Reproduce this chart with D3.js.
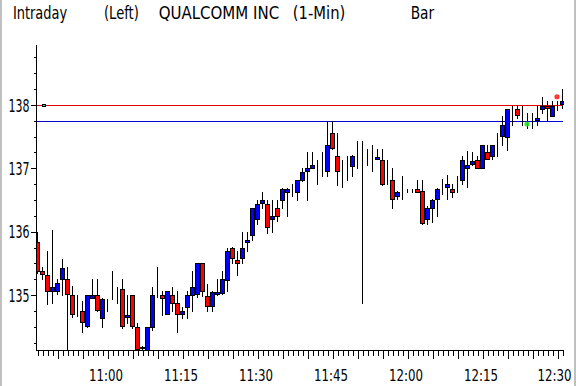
<!DOCTYPE html>
<html><head><meta charset="utf-8">
<script src="https://cdn.jsdelivr.net/npm/d3@7"></script>
<style>
html,body{margin:0;padding:0;background:#fff;}
svg{display:block;}
text{font-family:"Liberation Sans Narrow","DejaVu Sans Condensed","Liberation Sans",sans-serif;fill:#000;}
</style></head>
<body>
<svg id="c" width="576" height="386"></svg>
<script>
const times = ["10:46","10:47","10:48","10:49","10:50","10:51","10:52","10:53","10:54","10:55","10:56","10:57","10:58","10:59",
"11:00","11:01","11:02","11:03","11:04","11:05","11:06","11:07","11:08","11:09","11:10","11:11","11:12","11:13","11:14",
"11:15","11:16","11:17","11:18","11:19","11:20","11:21","11:22","11:23","11:24","11:25","11:26","11:27","11:28","11:29",
"11:30","11:31","11:32","11:33","11:34","11:35","11:36","11:37","11:38","11:39","11:40","11:41","11:42","11:43","11:44",
"11:45","11:46","11:47","11:48","11:49","11:50","11:51","11:52","11:53","11:54","11:55","11:56","11:57","11:58","11:59",
"12:00","12:01","12:02","12:03","12:04","12:05","12:06","12:07","12:08","12:09","12:10","12:11","12:12","12:13","12:14",
"12:15","12:16","12:17","12:18","12:19","12:20","12:21","12:22","12:23","12:24","12:25","12:26","12:27","12:28","12:29",
"12:30","12:31"];
const openP = [135.83,135.38,135.32,135.06,135.06,135.26,135.25,135.00,134.69,134.75,134.51,134.95,135.00,134.63,134.94,
134.94,135.00,135.10,134.65,135.00,134.49,134.18,134.13,134.49,135.00,135.00,134.70,135.00,134.87,134.70,
134.81,135.00,135.02,135.50,134.99,134.83,135.02,135.03,135.24,135.75,135.56,135.58,135.83,135.94,136.20,
136.45,136.43,136.20,136.37,136.50,136.63,136.68,136.63,136.82,136.95,137.01,137.00,137.00,136.95,137.55,
137.20,137.00,137.00,137.04,137.18,137.25,137.21,137.18,137.14,137.13,136.88,136.82,136.57,136.62,136.62,
136.62,136.68,136.64,136.20,136.38,136.51,136.68,136.70,136.68,136.81,136.81,137.01,137.07,137.13,137.00,
137.25,137.19,137.37,137.51,137.49,137.88,137.93,137.88,137.75,137.75,137.76,137.94,137.99,137.82,138.00,138.02];
const highP = [136.00,135.45,135.70,136.03,135.25,135.57,135.44,135.15,135.00,134.90,135.00,135.25,135.25,134.95,134.94,
135.38,135.13,135.25,135.00,135.00,134.56,134.20,134.49,135.13,135.44,135.06,135.07,135.13,135.06,134.81,
135.06,135.38,135.50,135.50,135.18,135.07,135.25,135.38,135.75,135.76,135.69,135.99,135.99,136.38,136.50,
136.62,136.50,136.50,136.50,136.69,136.69,136.76,136.82,137.00,137.25,137.25,137.13,137.25,137.74,137.74,
137.55,137.13,137.20,137.21,137.43,137.43,137.31,137.37,137.31,137.31,137.13,137.00,136.65,136.88,136.68,
136.68,136.82,136.82,136.40,136.52,136.69,136.83,136.90,136.76,136.88,137.19,137.27,137.25,137.19,137.37,
137.37,137.37,137.56,137.82,137.93,137.98,137.98,137.98,137.87,137.87,137.98,138.13,138.06,138.06,138.06,138.25];
const lowP = [135.35,135.25,134.86,134.88,135.02,135.00,134.10,134.66,134.67,134.42,134.50,134.95,134.75,134.50,134.75,
134.94,134.88,134.48,134.56,134.48,134.05,134.13,134.10,134.45,134.97,134.68,134.70,134.74,134.41,134.64,
134.63,134.75,134.97,134.99,134.74,134.75,135.00,135.01,135.07,135.50,135.31,135.51,135.70,135.87,136.12,
136.38,135.98,136.00,136.17,136.38,136.25,136.57,136.50,136.80,136.50,137.00,136.76,136.88,136.88,137.30,
136.74,136.70,136.82,136.88,137.00,134.88,137.06,136.95,137.14,136.74,136.76,136.37,136.51,136.51,136.62,
136.62,136.62,136.12,136.12,136.15,136.25,136.60,136.51,136.55,136.63,136.75,136.70,137.05,137.00,137.00,
137.14,137.14,137.19,137.37,137.29,137.68,137.80,137.68,137.63,137.63,137.68,137.87,137.75,137.82,137.92,137.95];
const closeP = [135.38,135.33,135.06,135.13,135.19,135.43,135.02,134.70,134.68,134.57,135.00,135.00,134.77,134.93,134.94,
134.94,135.00,134.51,134.69,134.51,134.14,134.17,134.49,135.00,135.00,134.95,135.06,134.88,134.70,134.75,
135.00,135.12,135.50,135.07,134.83,135.05,135.05,135.25,135.69,135.58,135.51,135.75,135.87,136.37,136.43,
136.50,136.07,136.25,136.25,136.68,136.68,136.68,136.81,136.94,137.00,137.06,137.00,137.00,137.37,137.32,
136.95,137.00,137.00,137.20,137.18,137.25,137.21,137.18,137.18,136.76,136.88,136.51,136.62,136.62,136.62,
136.62,136.63,136.13,136.37,136.50,136.68,136.68,136.75,136.63,136.81,137.13,137.06,137.11,137.00,137.37,
137.14,137.37,137.37,137.68,137.93,137.88,137.84,137.88,137.75,137.75,137.80,137.98,137.95,137.98,138.00,138.06];

const yMajorTicks = [135, 136, 137, 138];
const yMinorTicks = [134.25,134.5,134.75,135.25,135.5,135.75,136.25,136.5,136.75,137.25,137.5,137.75,138.25,138.5,138.75];
const xLabelTimes = ["11:00","11:15","11:30","11:45","12:00","12:15","12:30"];
const refLevels = [138.00, 137.74];
const refColors = ["#e00000", "#0000c8"];
const markerTimes = ["12:30","12:24"];
const markerPrices = [138.13, 137.70];
const markerColors = ["#ff2020", "#20e020"];
const headerTexts = ["Intraday", "(Left)", "QUALCOMM INC", "(1-Min)", "Bar"];

const svg = d3.select("#c");
const W = 576, H = 386;
const plot = {left: 36, right: 564, top: 45, bottom: 350};

svg.append("rect").attr("width", W).attr("height", H).attr("fill", "#fff");
svg.append("rect").attr("x", 0).attr("y", 0).attr("width", 2).attr("height", H).attr("fill", "#c0c0c0");
svg.append("rect").attr("x", 574).attr("y", 0).attr("width", 2).attr("height", H).attr("fill", "#c0c0c0");

const x = d3.scalePoint().domain(times).range([37.5, 37.5 + 5 * (times.length - 1)]);
const y = d3.scaleLinear().domain([134.132, 138.947]).range([plot.bottom, plot.top]);
const py = v => Math.round(y(v)) + 0.5;

// place text so that it spans [left, left+width] horizontally, baseline at by
function fitText(sel, left, by, width) {
  sel.attr("x", 0).attr("y", 0);
  const w = sel.node().getComputedTextLength();
  sel.attr("transform", `translate(${left},${by}) scale(${width / w},1)`);
}

// header
const hx = [12.9, 104, 158.7, 292.8, 410.7];
const hw = [54.3, 34.9, 120.5, 52.5, 23.5];
headerTexts.forEach((t, i) => {
  const el = svg.append("text").attr("class", "hdr").attr("font-size", 17).text(t);
  fitText(el, hx[i], 18.5, hw[i]);
});

// reference lines
refLevels.forEach((lv, i) => {
  svg.append("line").attr("x1", plot.left).attr("x2", 563)
    .attr("y1", py(lv)).attr("y2", py(lv))
    .attr("stroke", refColors[i]).attr("stroke-width", 1).attr("shape-rendering", "crispEdges");
});

svg.append("clipPath").attr("id", "pc").append("rect")
  .attr("x", plot.left).attr("y", plot.top).attr("width", plot.right - plot.left).attr("height", plot.bottom - plot.top);

const data = times.map((t, i) => ({t, o: openP[i], h: highP[i], l: lowP[i], c: closeP[i]}));
const gC = svg.append("g").attr("clip-path", "url(#pc)").attr("shape-rendering", "crispEdges");
gC.selectAll("line.wick").data(data).join("line").attr("class", "wick")
  .attr("x1", d => x(d.t)).attr("x2", d => x(d.t))
  .attr("y1", d => Math.round(y(d.h))).attr("y2", d => Math.round(y(d.l)) + 1)
  .attr("stroke", "#000").attr("stroke-width", 1);
gC.selectAll("rect.body").data(data).join("rect").attr("class", "body")
  .attr("x", d => x(d.t) - 2)
  .attr("y", d => Math.min(py(d.o), py(d.c)))
  .attr("width", 4)
  .attr("height", d => Math.abs(py(d.o) - py(d.c)))
  .attr("fill", d => d.c > d.o ? "#0000ff" : (d.c < d.o ? "#ff0000" : "#000"))
  .attr("stroke", "#000").attr("stroke-width", 1);

svg.append("rect").attr("x", 42).attr("y", py(138.0) - 1.5).attr("width", 3).attr("height", 2)
  .attr("fill", "#00e0e0").attr("stroke", "#000").attr("stroke-width", 1).attr("shape-rendering", "crispEdges");

markerTimes.forEach((t, i) => {
  svg.append("circle").attr("cx", x(t) - 0.5).attr("cy", y(markerPrices[i])).attr("r", 2.6)
    .attr("fill", markerColors[i]).attr("opacity", 0.9);
});

// Axes
const axL = svg.append("g").attr("transform", "translate(36.5,0)");
axL.append("g").call(d3.axisLeft(y).tickValues(yMinorTicks).tickSize(3).tickFormat(""))
  .call(g => g.select(".domain").remove());
axL.append("g").call(d3.axisLeft(y).tickValues(yMajorTicks).tickSize(6).tickFormat(""))
  .call(g => g.select(".domain").remove());
axL.selectAll("line").attr("stroke", "#000").attr("shape-rendering", "crispEdges");
axL.append("line").attr("x1", 0).attr("x2", 0).attr("y1", plot.top).attr("y2", plot.bottom + 1)
  .attr("stroke", "#000").attr("shape-rendering", "crispEdges");
yMajorTicks.forEach(v => {
  const el = svg.append("text").attr("class", "yl").attr("font-size", 17).text(v);
  fitText(el, 8.5, y(v) + 6.7, 21);
});

const axB = svg.append("g").attr("transform", "translate(0,350.5)");
axB.append("g").call(d3.axisBottom(x).tickValues(times).tickSize(5).tickFormat(""))
  .call(g => g.select(".domain").remove());
axB.append("g").call(d3.axisBottom(x).tickValues(times.filter(t => +t.slice(3) % 5 === 0)).tickSize(8).tickFormat(""))
  .call(g => g.select(".domain").remove());
axB.selectAll("line").attr("stroke", "#000").attr("shape-rendering", "crispEdges");
axB.append("line").attr("x1", plot.left).attr("x2", plot.right).attr("y1", 0).attr("y2", 0)
  .attr("stroke", "#000").attr("shape-rendering", "crispEdges");
xLabelTimes.forEach((t, i) => {
  const el = svg.append("text").attr("class", "xl").attr("font-size", 16.5).text(t);
  const cx = x(t) - (i === xLabelTimes.length - 1 ? 3 : 1.5);
  fitText(el, cx - 17, 381, 34);
});
</script>
</body></html>
